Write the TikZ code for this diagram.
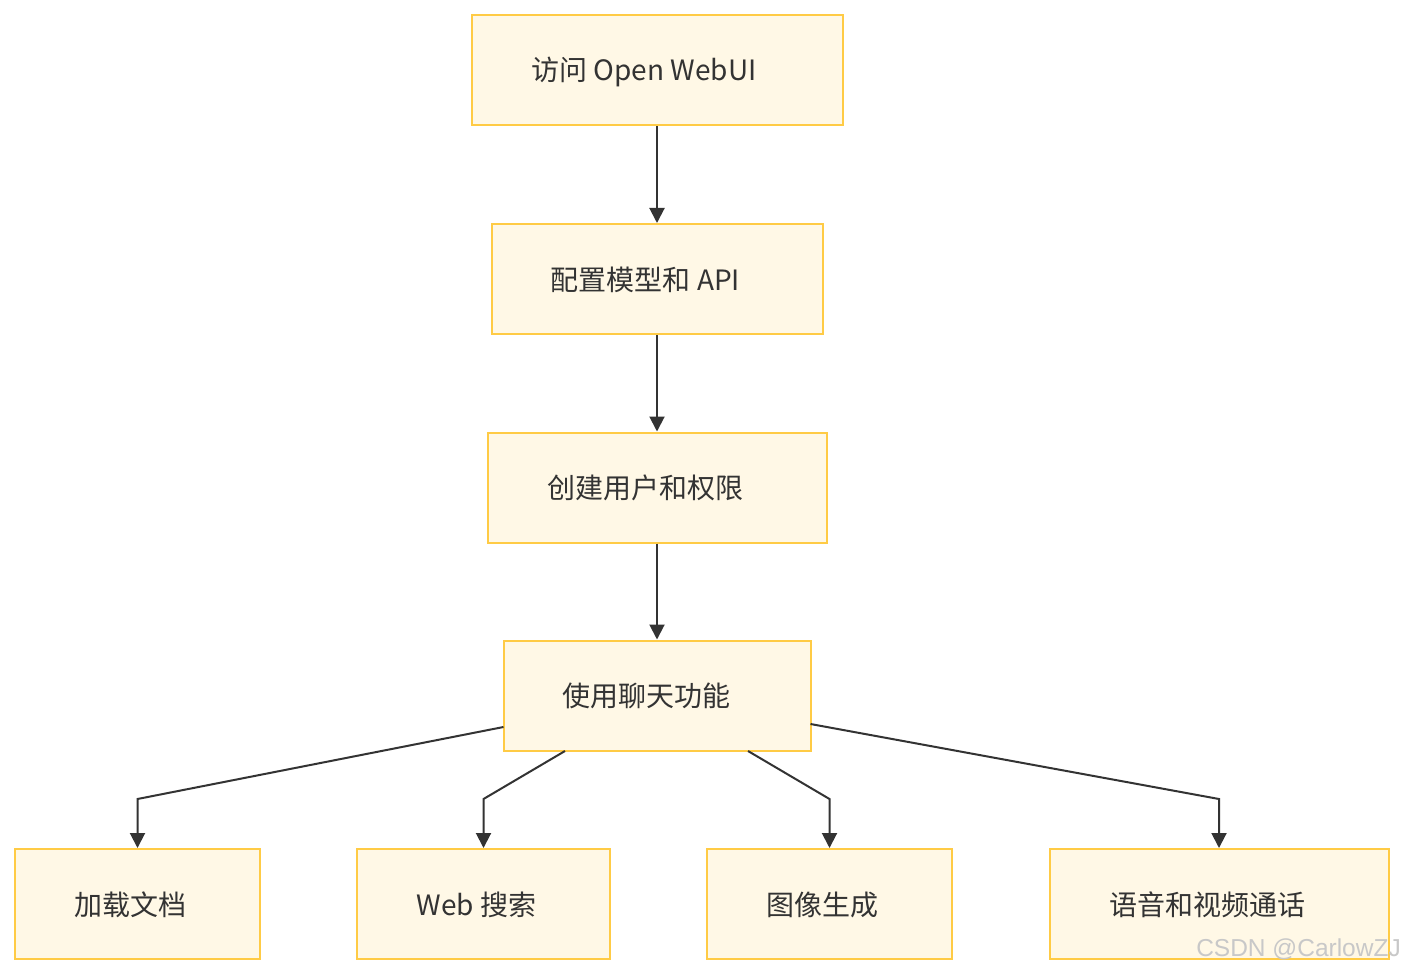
\documentclass[tikz,border=0pt]{standalone}
\usepackage{fontspec}
\setmainfont{Noto Sans CJK SC}
\newfontfamily\wmfont{Liberation Sans}
\usetikzlibrary{arrows.meta,calc}
\definecolor{boxfill}{HTML}{FFF8E6}
\definecolor{boxline}{HTML}{FFCB45}
\definecolor{ink}{HTML}{333333}
\definecolor{wm}{HTML}{C8C8C8}
\begin{document}
\begin{tikzpicture}[x=1pt,y=-1pt,
  flowbox/.style={draw=boxline,fill=boxfill,line width=2pt,inner sep=0pt},
  lbl/.style={text=ink,font=\fontsize{28}{32}\selectfont,inner sep=0pt,anchor=center},
  conn/.style={draw=ink,line width=2pt,-{Triangle[length=15pt,width=15pt]}}]
\useasboundingbox (0,0) rectangle (1404,976);
% boxes
\node[flowbox,minimum width=371pt,minimum height=110pt] (b1) at (657,70.5) {};
\node[flowbox,minimum width=331pt,minimum height=110pt] (b2) at (657,279) {};
\node[flowbox,minimum width=339pt,minimum height=110pt] (b3) at (657,487.5) {};
\node[flowbox,minimum width=307pt,minimum height=110pt] (b4) at (657,695.5) {};
\node[flowbox,minimum width=245pt,minimum height=110pt] (b5) at (137.5,904) {};
\node[flowbox,minimum width=253pt,minimum height=110pt] (b6) at (483.5,904) {};
\node[flowbox,minimum width=245pt,minimum height=110pt] (b7) at (829.5,904) {};
\node[flowbox,minimum width=339pt,minimum height=110pt] (b8) at (1219,904) {};
% labels
\node[lbl] (t1) at (644,72) {访问 Open WebUI};
\node[lbl] (t2) at (645.5,280) {配置模型和 API};
\node[lbl] (t3) at (645,488) {创建用户和权限};
\node[lbl] (t4) at (646.5,696) {使用聊天功能};
\node[lbl] (t5) at (130,905) {加载文档};
\node[lbl] (t6) at (476.5,905) {Web 搜索};
\node[lbl] (t7) at (822.5,905) {图像生成};
\node[lbl] (t8) at (1207.5,905) {语音和视频通话};
% connector points
\coordinate (s5) at (503.5,727);
\coordinate (k5) at (137.5,799);
\coordinate (s6) at (565,751);
\coordinate (k6) at (483.5,799);
\coordinate (s7) at (748,751);
\coordinate (k7) at (829.5,799);
\coordinate (s8) at (810.5,724);
\coordinate (k8) at (1219,799);
% connectors
\draw[conn] (b1.south) -- (b2.north);
\draw[conn] (b2.south) -- (b3.north);
\draw[conn] (b3.south) -- (b4.north);
\draw[conn] (s5) -- (k5) -- (b5.north);
\draw[conn] (s6) -- (k6) -- (b6.north);
\draw[conn] (s7) -- (k7) -- (b7.north);
\draw[conn] (s8) -- (k8) -- (b8.north);
% watermark
\node[text=wm,font=\wmfont\fontsize{24.5}{28}\selectfont,inner sep=0pt,anchor=east] (wmk) at (1401,949) {CSDN @CarlowZJ};
\end{tikzpicture}
\end{document}
